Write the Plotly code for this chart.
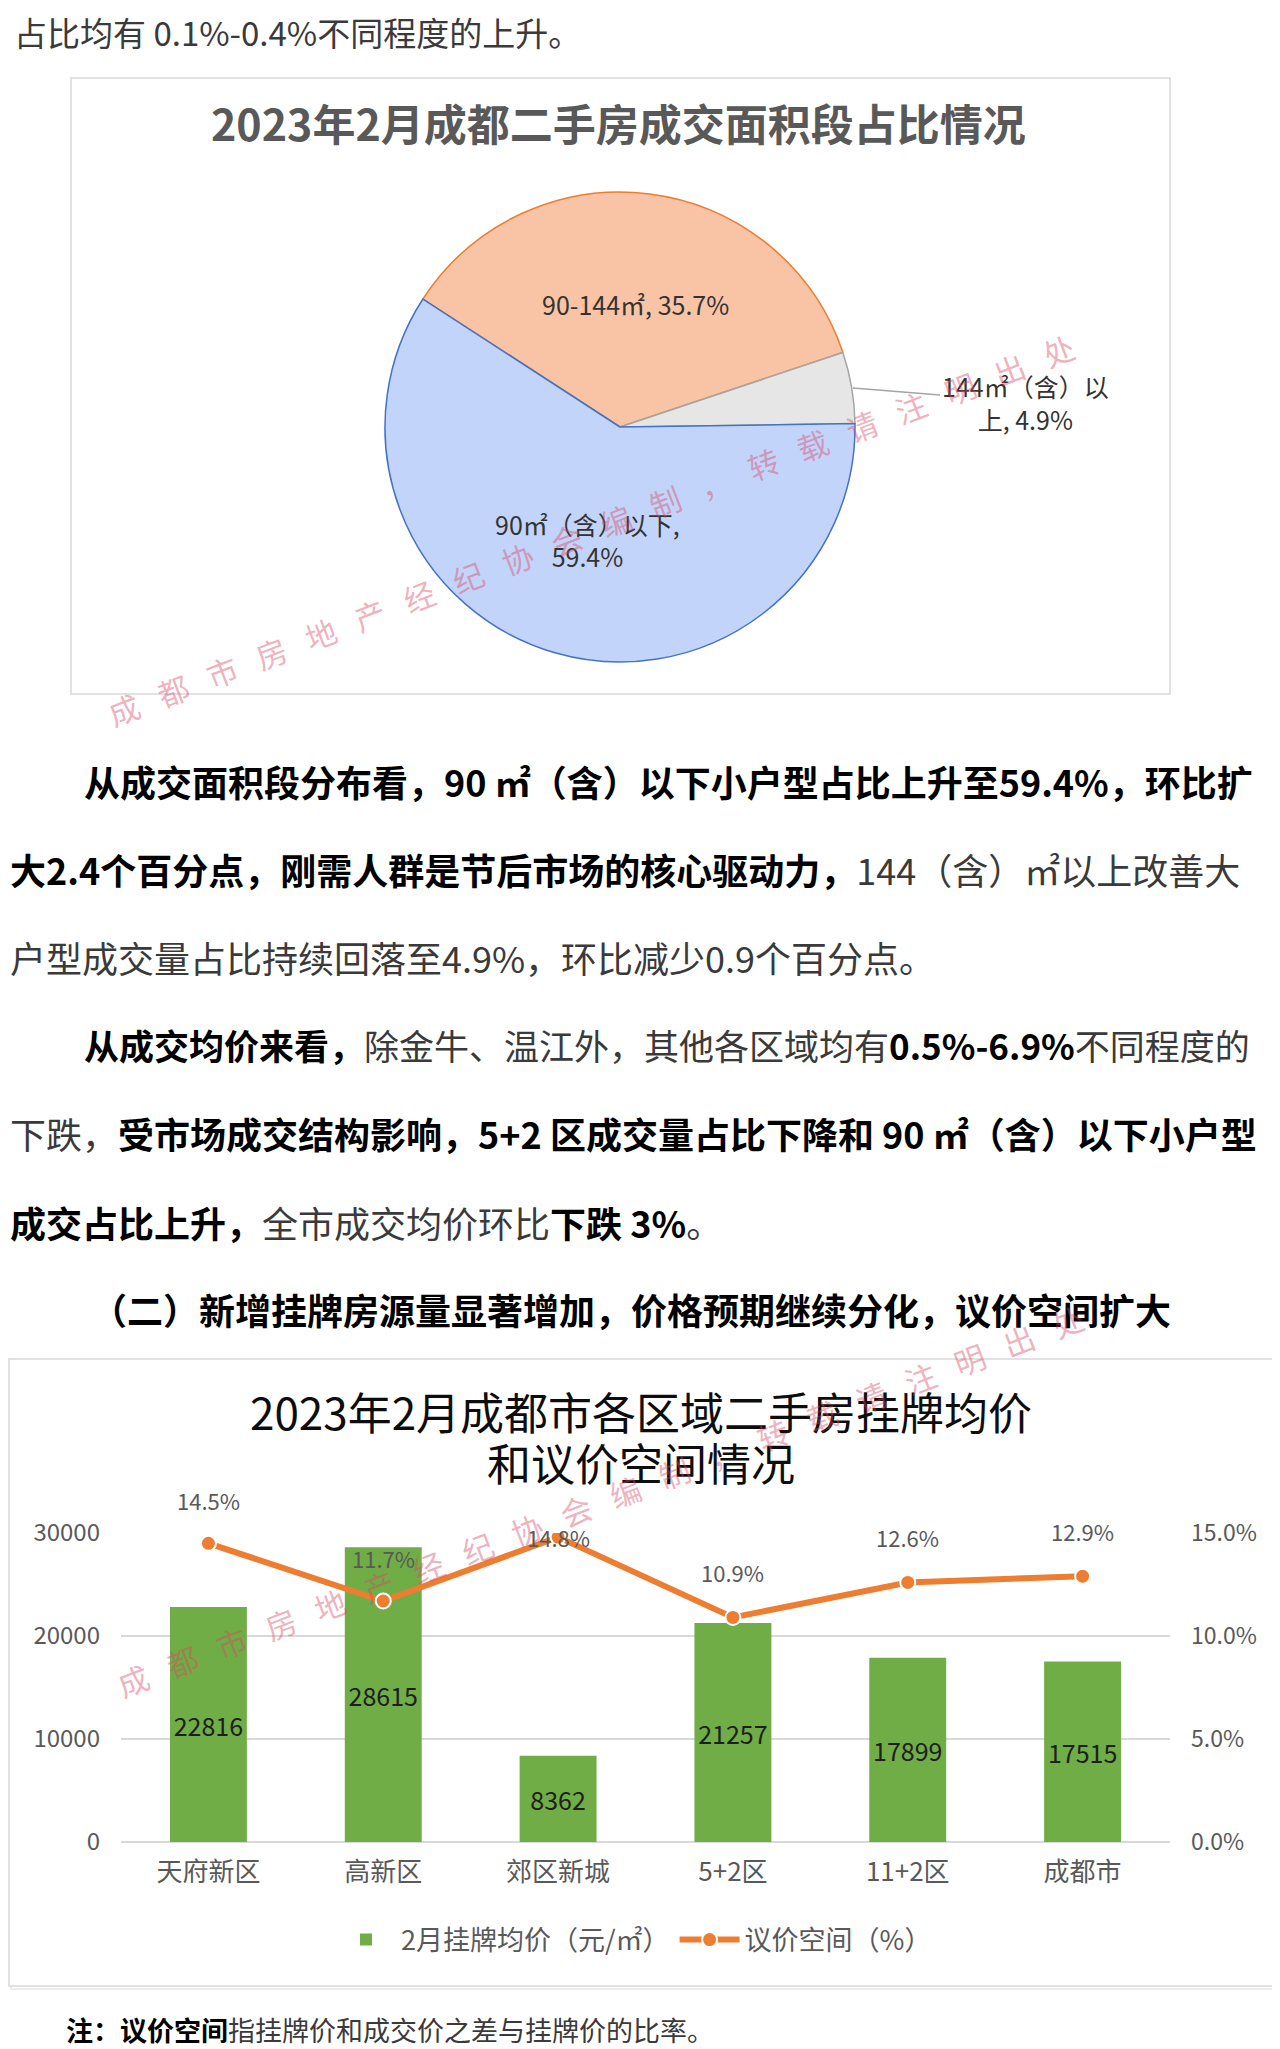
import plotly.graph_objects as go

W, H = 1280, 2049
FONT = "Noto Sans CJK SC"
OFF = 8  # the page places the figure 8px in from the top-left corner

# ---------------- data ----------------
pie_labels = ["90-144㎡", "144㎡（含）以上", "90㎡（含）以下"]
pie_wrapped = ["90-144㎡", "144㎡（含）以<br>上", "90㎡（含）以下"]
pie_values = [35.7, 4.9, 59.4]

districts = ["天府新区", "高新区", "郊区新城", "5+2区", "11+2区", "成都市"]
list_price = [22816, 28615, 8362, 21257, 17899, 17515]
bargain_space = [14.5, 11.7, 14.8, 10.9, 12.6, 12.9]

price_ticks = [0, 10000, 20000, 30000]
space_ticks = [0, 5, 10, 15]

# ---------------- helpers (page pixel -> paper fraction) ----------------
def px(x):
    return (x - OFF) / W

def py(y):
    return 1 - (y - OFF) / H

fig = go.Figure()
ann = []

# ---------------- pie ----------------
pie_colors = ["#f9c4a6", "#e6e6e6", "#c3d4fa"]
pie_edges = ["#ed7d31", "#a5a5a5", "#4472c4"]
pie_templates = ["%{text}, %{value:.1f}%", "", "%{text},<br>%{value:.1f}%"]
pie_textpos = ["inside", "none", "inside"]

cx, cy, r = 620, 427, 235
fig.add_trace(go.Pie(
    labels=pie_labels, values=pie_values, text=pie_wrapped,
    texttemplate=pie_templates, textposition=pie_textpos,
    insidetextorientation="horizontal",
    sort=False, direction="clockwise", rotation=-57,
    marker=dict(colors=pie_colors, line=dict(color=pie_edges, width=1.5)),
    insidetextfont=dict(family=FONT, size=25, color="#333333"),
    domain=dict(x=[px(cx - r), px(cx + r)], y=[py(cy + r), py(cy - r)]),
    showlegend=False, hoverinfo="skip",
))

# outside label of the small slice with its leader line
ann.append(dict(
    text=f"{pie_wrapped[1]}, {pie_values[1]:.1f}%",
    x=px(853), y=py(388), xref="paper", yref="paper",
    showarrow=True, arrowhead=0, arrowwidth=1.5, arrowcolor="#a5a5a5",
    ax=172, ay=14, axref="pixel", ayref="pixel",
    font=dict(family=FONT, size=25, color="#333333"),
))

# ---------------- bar + line ----------------
fig.add_trace(go.Bar(
    x=districts, y=list_price, name="2月挂牌均价（元/㎡）",
    marker=dict(color="#70ad47", line=dict(width=0)),
    texttemplate="%{y:.0f}", textposition="inside", textangle=0,
    insidetextanchor="middle", constraintext="none",
    textfont=dict(family=FONT, size=25, color="#1e1e1e"),
    xaxis="x", yaxis="y",
))

fig.add_trace(go.Scatter(
    x=districts, y=bargain_space, name="议价空间（%）",
    mode="lines+markers",
    line=dict(color="#ed7d31", width=6),
    marker=dict(size=15, color="#ed7d31", line=dict(color="#ffffff", width=2)),
    xaxis="x", yaxis="y2",
))

# data labels of the line (placed above each point; one sits on its point)
label_shift = [43, 43, 0, 45, 45, 45]
for c, v, s in zip(districts, bargain_space, label_shift):
    ann.append(dict(text=f"{v:.1f}%", x=c, y=v, xref="x", yref="y2", yshift=s,
                    showarrow=False, font=dict(family=FONT, size=22, color="#595959")))

# ---------------- text annotations ----------------
def text(s, x, y, size=36, anchor="left", color="#333333"):
    ann.append(dict(text=s, x=px(x), y=py(y), xref="paper", yref="paper",
                    xanchor=anchor, yanchor="middle", showarrow=False,
                    font=dict(family=FONT, size=size, color=color)))

def B(s):
    return "<b><span style='color:#000000'>" + s + "</span></b>"

def R(s):
    return "<span style='color:#3a3a3a'>" + s + "</span>"

text(R("占比均有 0.1%-0.4%不同程度的上升。"), 12, 32, size=33)

# pie chart title
text("<b>2023年2月成都二手房成交面积段占比情况</b>", 618, 122, size=43, anchor="center", color="#595959")

# paragraph 1
text(B("从成交面积段分布看，90 ㎡（含）以下小户型占比上升至59.4%，环比扩"), 82, 781)
text(B("大2.4个百分点，刚需人群是节后市场的核心驱动力，") + R("144（含）㎡以上改善大"), 8, 869)
text(R("户型成交量占比持续回落至4.9%，环比减少0.9个百分点。"), 8, 957)
# paragraph 2
text(B("从成交均价来看，") + R("除金牛、温江外，其他各区域均有") + B("0.5%-6.9%") + R("不同程度的"), 82, 1044, size=35)
text(R("下跌，") + B("受市场成交结构影响，5+2 区成交量占比下降和 90 ㎡（含）以下小户型"), 8, 1133)
text(B("成交占比上升，") + R("全市成交均价环比") + B("下跌 3%") + R("。"), 8, 1222)
text(B("（二）新增挂牌房源量显著增加，价格预期继续分化，议价空间扩大"), 89, 1309)

# bar chart title
text("2023年2月成都市各区域二手房挂牌均价", 641, 1411, size=44, anchor="center", color="#0d0d0d")
text("和议价空间情况", 641, 1462, size=44, anchor="center", color="#0d0d0d")

# note
text(B("注：议价空间") + R("指挂牌价和成交价之差与挂牌价的比率。"), 64, 2029, size=27)

# watermarks
wm = "\u2002\u2009".join(list("成都市房地产经纪协会编制，转载请注明出处"))
for (wx, wy) in [(591, 530), (600, 1500)]:
    ann.append(dict(text=wm, x=px(wx), y=py(wy), xref="paper", yref="paper",
                    xanchor="center", yanchor="middle", showarrow=False, textangle=-21,
                    font=dict(family=FONT, size=31, color="rgba(215,70,95,0.42)")))

# ---------------- frames ----------------
shapes = [
    dict(type="rect", xref="paper", yref="paper", x0=px(71), x1=px(1170), y0=py(694), y1=py(78),
         line=dict(color="#d9d9d9", width=1.5), layer="below"),
    dict(type="rect", xref="paper", yref="paper", x0=px(11), x1=px(1277), y0=py(1989), y1=py(1361),
         line=dict(color="#ececec", width=2), layer="below"),
    dict(type="rect", xref="paper", yref="paper", x0=px(9), x1=px(1275), y0=py(1986), y1=py(1359),
         line=dict(color="#d9d9d9", width=1.5), fillcolor="#ffffff", layer="below"),
]

axis_font = dict(family=FONT, size=24, color="#595959")
fig.update_layout(
    width=W, height=H,
    margin=dict(l=0, r=0, t=0, b=0, autoexpand=False),
    paper_bgcolor="#ffffff", plot_bgcolor="rgba(0,0,0,0)",
    font=dict(family=FONT, color="#595959"),
    bargap=0.56,
    xaxis=dict(domain=[px(121), px(1170)], showgrid=False, showline=False, ticks="",
               tickfont=dict(family=FONT, size=26, color="#595959"), ticklabelstandoff=12,
               automargin=False, anchor="y"),
    yaxis=dict(domain=[py(1842), py(1533)], range=[0, 30000], tickvals=price_ticks,
               ticktext=[f"{v:d}" for v in price_ticks],
               showgrid=True, gridcolor="#d9d9d9", gridwidth=1.5,
               zeroline=True, zerolinecolor="#d9d9d9", zerolinewidth=2,
               showline=False, ticks="", tickfont=axis_font, ticklabelstandoff=20,
               automargin=False, anchor="x"),
    yaxis2=dict(domain=[py(1842), py(1533)], range=[0, 15], tickvals=space_ticks,
                ticktext=[f"{v:.1f}%" for v in space_ticks], overlaying="y", side="right",
                showgrid=False, zeroline=False, showline=False, ticks="",
                tickfont=dict(family=FONT, size=23, color="#595959"), ticklabelstandoff=20,
                automargin=False, anchor="x"),
    legend=dict(orientation="h", x=px(634), xanchor="center", y=py(1940), yanchor="middle",
                font=dict(family=FONT, size=27, color="#595959"), bgcolor="rgba(0,0,0,0)",
                itemwidth=60),
    annotations=ann,
    shapes=shapes,
)

fig.write_html("out.html")
